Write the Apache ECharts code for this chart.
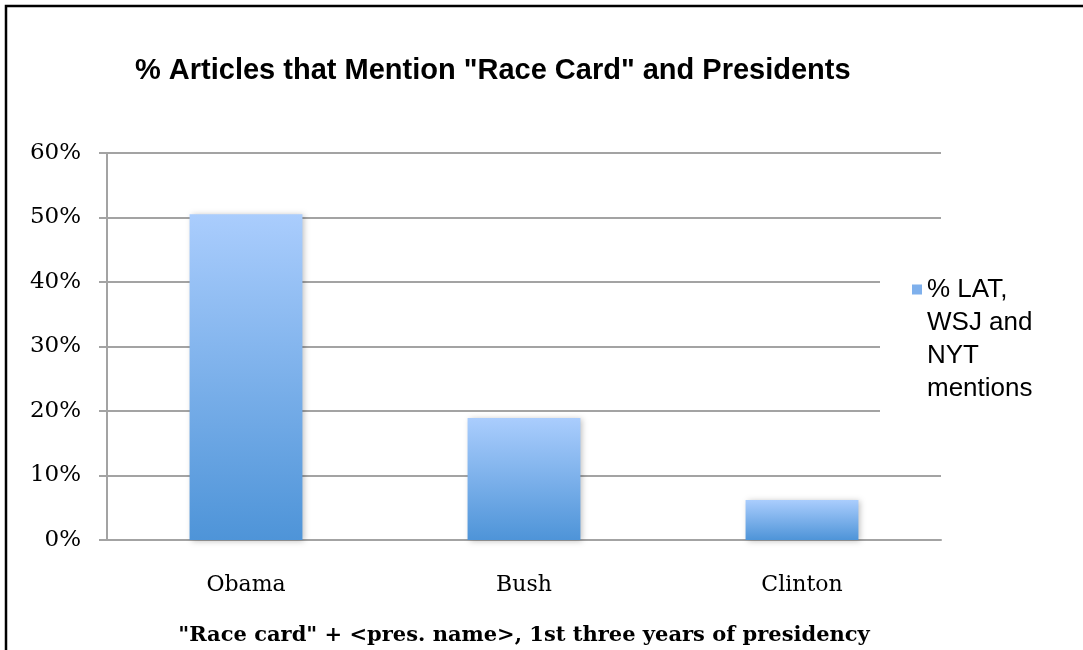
<!DOCTYPE html>
<html>
<head>
<meta charset="utf-8">
<script src="https://cdn.jsdelivr.net/npm/echarts@6/dist/echarts.min.js"></script>
<style>
  html, body { margin: 0; padding: 0; background: #fff; }
  #chart { width: 1083px; height: 650px; }
</style>
</head>
<body>
<div id="chart"></div>
<script>
// data
const presidents = ['Obama', 'Bush', 'Clinton'];
const mentionPct = [50.5, 18.9, 6.2];
const seriesName = '% LAT, WSJ and NYT mentions';
const yTicks = [0, 60, 10]; // min, max, step

const chart = echarts.init(document.getElementById('chart'));

const axisGray = '#a3a3a3';
const serif = '"DejaVu Serif", "Liberation Serif", serif';

chart.setOption({
    animation: false,
    title: {
        text: '% Articles that Mention "Race Card" and Presidents',
        left: 130,
        top: 51,
        textStyle: {
            fontFamily: '"Liberation Sans", Arial, sans-serif',
            fontWeight: 'bold',
            fontSize: 29,
            color: '#000'
        }
    },
    legend: {
        data: [seriesName],
        orient: 'vertical',
        left: 880,
        top: 233,
        padding: [40, 60, 40, 32],
        backgroundColor: '#fff',
        itemWidth: 10,
        itemHeight: 132,
        // square at the first text line, empty space below it
        icon: 'path://M0,11.5h10v10h-10z M0,0L0,0 M0,132L0,132',
        itemStyle: { color: '#7fb0ec', borderWidth: 0 },
        formatter: function () { return '% LAT,\nWSJ and\nNYT\nmentions'; },
        textStyle: {
            fontFamily: '"Liberation Sans", Arial, sans-serif',
            fontSize: 26,
            lineHeight: 33,
            color: '#000'
        }
    },
    grid: {
        left: 107,
        right: 142,
        top: 153,
        bottom: 110,
        outerBoundsMode: 'none'
    },
    xAxis: {
        type: 'category',
        data: presidents,
        name: '"Race card" + <pres. name>, 1st three years of presidency',
        nameLocation: 'middle',
        nameGap: 85,
        nameTextStyle: {
            fontFamily: serif,
            fontWeight: 'bold',
            fontSize: 21,
            color: '#000'
        },
        axisLine: { lineStyle: { color: axisGray, width: 2 } },
        axisTick: { length: 8, lineStyle: { color: axisGray, width: 2 } },
        axisLabel: {
            margin: 34,
            fontFamily: serif,
            fontSize: 22,
            color: '#000'
        }
    },
    yAxis: {
        type: 'value',
        min: yTicks[0],
        max: yTicks[1],
        interval: yTicks[2],
        axisLine: { show: true, lineStyle: { color: axisGray, width: 2 } },
        axisTick: { show: true, length: 8, lineStyle: { color: axisGray, width: 2 } },
        splitLine: { lineStyle: { color: axisGray, width: 2 } },
        axisLabel: {
            formatter: '{value}%',
            margin: 26,
            fontFamily: serif,
            fontSize: 23,
            color: '#000'
        }
    },
    series: [
        {
            name: seriesName,
            type: 'bar',
            data: mentionPct,
            barWidth: '40.6%',
            itemStyle: {
                color: new echarts.graphic.LinearGradient(0, 0, 0, 1, [
                    { offset: 0, color: '#aacdfd' },
                    { offset: 1, color: '#4e94d8' }
                ]),
                shadowColor: 'rgba(0,0,0,0.25)',
                shadowBlur: 6,
                shadowOffsetX: 2,
                shadowOffsetY: 1
            }
        }
    ],
    graphic: [
        {
            type: 'polyline',
            shape: { points: [[6, 650], [6, 6], [1083, 6]] },
            style: { stroke: '#000', lineWidth: 2.5, fill: null },
            z: 100
        }
    ]
});
</script>
</body>
</html>
